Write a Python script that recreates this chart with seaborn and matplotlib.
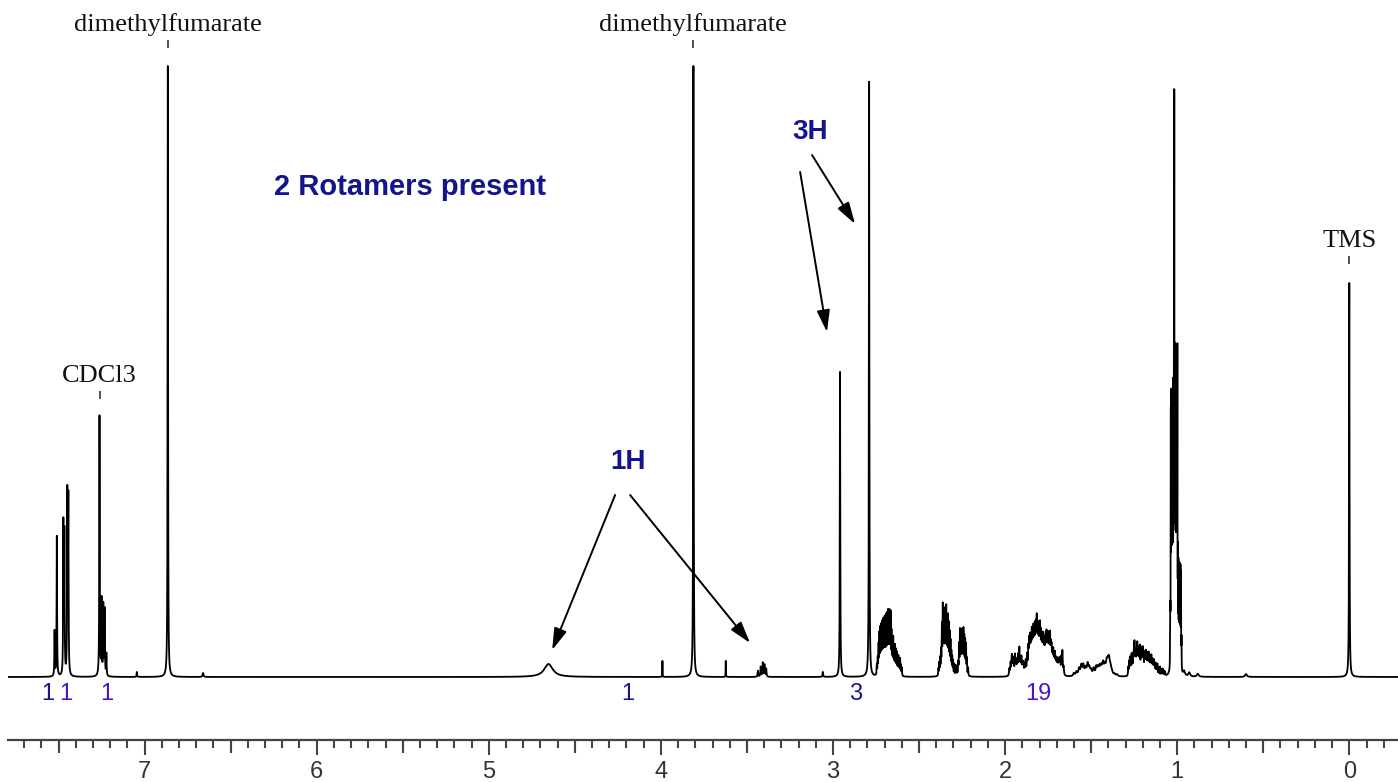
import numpy as np
import pandas as pd
import matplotlib
matplotlib.use("Agg")
import matplotlib.pyplot as plt
import seaborn as sns
from matplotlib.ticker import MultipleLocator, FixedLocator, FuncFormatter

# ---------------- data ----------------
# peak list: chemical shift (ppm), height (arbitrary units), half width (ppm)
peak_ppm = [
    # aromatic
    7.523, 7.510, 7.472, 7.466, 7.449, 7.443,
    7.262, 7.250, 7.240, 7.232, 7.222, 7.045,
    6.865, 6.660,
    # 4.6 - 3.3
    4.653, 3.991, 3.811, 3.623,
    3.436, 3.420, 3.408, 3.398, 3.388, 3.059,
    2.959, 2.790,
    # 2.75 - 2.60 multiplet
    2.745, 2.740, 2.735, 2.730, 2.725, 2.720, 2.715, 2.710, 2.705, 2.700,
    2.695, 2.690, 2.685, 2.680, 2.675, 2.670, 2.665, 2.660, 2.655, 2.650,
    2.645, 2.640, 2.635, 2.630, 2.625, 2.620, 2.615, 2.610, 2.605, 2.600,
    # 2.39 - 2.28 multiplet
    2.387, 2.382, 2.377, 2.372, 2.367, 2.362, 2.357, 2.352, 2.347, 2.342,
    2.337, 2.332, 2.327, 2.322, 2.317, 2.312, 2.307, 2.302, 2.295, 2.287, 2.280,
    # 2.27 - 2.21 multiplet
    2.272, 2.267, 2.262, 2.257, 2.252, 2.247, 2.242, 2.237, 2.232, 2.227, 2.222, 2.215,
    # 1.98 - 1.65
    1.975, 1.968, 1.961, 1.955, 1.950, 1.942, 1.936, 1.930, 1.924, 1.917,
    1.911, 1.905, 1.899, 1.894, 1.887, 1.880, 1.872, 1.865, 1.860, 1.855,
    1.850, 1.845, 1.840, 1.835, 1.830, 1.825, 1.820, 1.816, 1.811, 1.806,
    1.801, 1.797, 1.792, 1.787, 1.782, 1.778, 1.773, 1.768, 1.763, 1.759,
    1.754, 1.749, 1.744, 1.739, 1.734, 1.730, 1.725, 1.720, 1.715, 1.710,
    1.705, 1.700, 1.695, 1.690, 1.685, 1.680, 1.673, 1.667, 1.660,
    # 1.6 - 1.30 humps
    1.600, 1.585, 1.570, 1.557, 1.545, 1.532, 1.520, 1.510, 1.500, 1.485,
    1.470, 1.460, 1.450, 1.440, 1.430, 1.420, 1.410, 1.403, 1.396, 1.388,
    1.380, 1.365, 1.350,
    # 1.28 - 1.07 multiplet
    1.284, 1.279, 1.275, 1.270, 1.265, 1.260, 1.255, 1.251, 1.248, 1.244,
    1.240, 1.236, 1.232, 1.228, 1.224, 1.220, 1.216, 1.211, 1.207, 1.203,
    1.199, 1.195, 1.190, 1.186, 1.182, 1.178, 1.174, 1.170, 1.166, 1.162,
    1.158, 1.154, 1.150, 1.146, 1.142, 1.138, 1.134, 1.130, 1.125, 1.120,
    1.115, 1.108, 1.100, 1.092, 1.085, 1.078, 1.070,
    # 1.0 doublets (dense)
    1.040, 1.037, 1.034, 1.031, 1.028, 1.025, 1.022, 1.019, 1.017, 1.014,
    1.011, 1.008, 1.005, 1.002, 0.999, 0.996, 0.993, 0.990, 0.987, 0.984,
    0.981, 0.978, 0.975,
    0.960, 0.930, 0.880, 0.600,
    # TMS
    0.000,
]
peak_height = [
    45, 140, 150, 140, 180, 175,
    260, 75, 70, 66, 22, 5,
    611, 4,
    13, 16, 611, 16,
    6, 10, 14, 12, 8, 5,
    305, 595,
    10, 16, 28, 38, 42, 44, 46, 48, 48, 50,
    48, 52, 53, 56, 54, 56, 56, 38, 32, 34,
    25, 27, 23, 21, 16, 18, 15, 16, 10, 8,
    7, 12, 16, 22, 46, 64, 58, 55, 57, 61,
    50, 53, 46, 38, 31, 21, 17, 14, 11, 10, 9,
    12, 29, 42, 38, 40, 39, 42, 35, 32, 29, 16, 8,
    7, 12, 19, 13, 15, 19, 12, 13, 18, 25,
    14, 16, 10, 11, 9, 13, 18, 23, 28, 30,
    27, 34, 31, 36, 33, 37, 34, 42, 36, 35,
    30, 37, 31, 29, 26, 28, 24, 26, 28, 30,
    27, 31, 25, 33, 22, 21, 18, 20, 14, 18,
    12, 13, 10, 12, 13, 14, 16, 23, 8,
    3, 4, 7, 10, 10, 7, 11, 7, 5, 7,
    8, 7, 8, 8, 11, 8, 11, 10, 14, 7,
    4, 2, 2,
    8, 12, 16, 13, 19, 15, 17, 22, 26, 18,
    20, 17, 27, 19, 22, 16, 25, 18, 22, 17,
    23, 16, 19, 15, 20, 14, 18, 13, 19, 12,
    16, 11, 17, 11, 13, 10, 13, 9, 11, 9,
    11, 8, 9, 6, 7, 5, 4,
    50, 240, 245, 240, 235, 236, 240, 250, 515, 262,
    258, 255, 258, 272, 295, 95, 92, 91, 93, 92,
    94, 92, 30,
    5, 4, 3, 3,
    394,
]
peak_width = (
    [0.0015] * 12 + [0.0015, 0.003]
    + [0.03, 0.0008, 0.0015, 0.0008]
    + [0.002] * 5 + [0.002]
    + [0.0015, 0.0015]
    + [0.0014] * 30
    + [0.0014] * 21
    + [0.0014] * 12
    + [0.0022] * 59
    + [0.005] * 23
    + [0.0016] * 47
    + [0.0008] * 23
    + [0.006] * 4
    + [0.0015]
)

# tick labels on the ppm axis
tick_values = [7, 6, 5, 4, 3, 2, 1, 0]
half_tick_values = [7.5, 6.5, 5.5, 4.5, 3.5, 2.5, 1.5, 0.5]

# peak labels above the spectrum
label_text = ["dimethylfumarate", "dimethylfumarate", "CDCl3", "TMS"]
label_ppm = [6.865, 3.811, 7.262, 0.000]
label_y = [652, 652, 301, 436]

# integrals written under the baseline
integral_text = ["1", "1", "1", "1", "3", "19"]
integral_ppm = [7.565, 7.455, 7.217, 4.195, 2.866, 1.808]
integral_color = ["#16168c", "#4a14cc", "#4a14cc", "#16168c", "#16168c", "#4a14cc"]

# annotations
ann_text = ["1H", "3H"]
ann_ppm = [4.189, 3.134]
ann_y = [215, 545]
arrow_start_ppm = [4.266, 4.179, 3.191, 3.122]
arrow_start_y = [182, 182, 505, 522]
arrow_end_ppm = [4.632, 3.482, 3.035, 2.872]
arrow_end_y = [27, 34, 345, 453]

# ---------------- build spectrum ----------------
ppm = np.arange(-0.30, 7.80, 0.0002)
intensity = np.zeros_like(ppm)
for p, h, w in zip(peak_ppm, peak_height, peak_width):
    intensity += h / (1.0 + ((ppm - p) / w) ** 2)
df = pd.DataFrame({"ppm": ppm, "intensity": intensity})

# ---------------- plot ----------------
sns.set_theme(style="white")
plt.rcParams["font.family"] = ["Liberation Sans", "DejaVu Sans"]

W, H = 1398, 782
fig = plt.figure(figsize=(W / 100, H / 100), dpi=100)
ax = fig.add_axes([8.3 / W, 1 - 740 / H, 1 - 8.3 / W, 740 / H])

sns.lineplot(data=df, x="ppm", y="intensity", ax=ax, color="black",
             linewidth=1.3, estimator=None, sort=False)

ax.set_xlim(7.792, -0.283)
ax.set_ylim(-63, 677)
ax.set_xlabel("")
ax.set_ylabel("")
ax.set_yticks([])
for s in ["left", "right", "top"]:
    ax.spines[s].set_visible(False)
ax.spines["bottom"].set_color("#444444")
ax.spines["bottom"].set_linewidth(1.6)

ax.xaxis.set_major_locator(FixedLocator(tick_values))
ax.xaxis.set_major_formatter(FuncFormatter(lambda v, pos: f"{int(round(v))}"))
ax.xaxis.set_minor_locator(MultipleLocator(0.1))
ax.tick_params(axis="x", which="major", direction="out", length=11, width=1.5,
               color="#444444", labelsize=17, labelcolor="#333333", pad=4, bottom=True)
ax.tick_params(axis="x", which="minor", direction="out", length=6, width=1.5,
               color="#444444", bottom=True)
# half-ppm ticks of intermediate length
sec = ax.secondary_xaxis("bottom")
sec.xaxis.set_major_locator(FixedLocator(half_tick_values))
sec.xaxis.set_major_formatter(FuncFormatter(lambda v, pos: ""))
sec.tick_params(axis="x", which="major", direction="out", length=9, width=1.5, color="#444444")
sec.tick_params(axis="x", which="minor", bottom=False)
sec.spines["bottom"].set_visible(False)

# peak labels with small marks
for t, x, y in zip(label_text, label_ppm, label_y):
    ax.text(x, y, t, ha="center", va="center", fontsize=19,
            family=["Liberation Serif", "DejaVu Serif"], color="#111111")
    ax.vlines(x, y - 23, y - 15, color="#333333", linewidth=1.2)

# integrals
for t, x, c in zip(integral_text, integral_ppm, integral_color):
    ax.text(x, -17, t, ha="center", va="center", fontsize=17, color=c)

# annotation texts
ax.text(5.456, 490, "2 Rotamers present", ha="center", va="center",
        fontsize=21, fontweight="bold", color="#14148c")
for t, x, y in zip(ann_text, ann_ppm, ann_y):
    ax.text(x, y, t, ha="center", va="center", fontsize=20,
            fontweight="bold", color="#14148c")
for x0, y0, x1, y1 in zip(arrow_start_ppm, arrow_start_y, arrow_end_ppm, arrow_end_y):
    ax.annotate("", xy=(x1, y1), xytext=(x0, y0),
                arrowprops=dict(arrowstyle="-|>,head_length=1.1,head_width=0.33",
                                color="black", linewidth=1.4, shrinkA=0, shrinkB=0))

fig.savefig("out.png", dpi=100)
